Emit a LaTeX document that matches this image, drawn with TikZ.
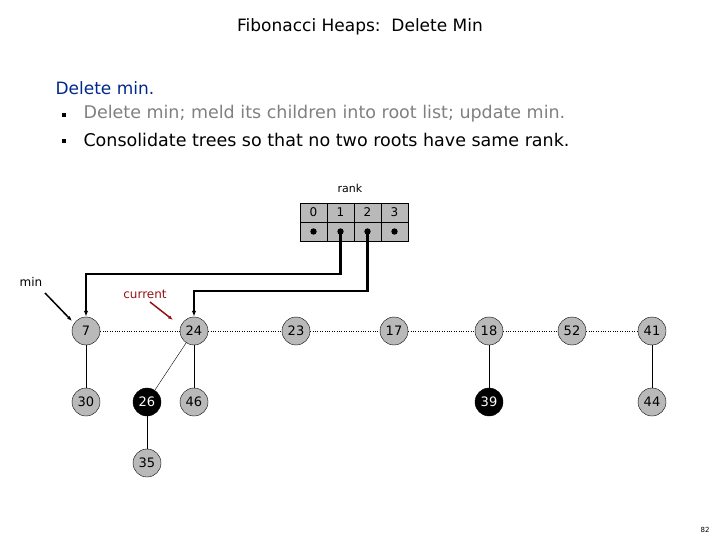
\documentclass[tikz,border=0pt]{standalone}
\usepackage{fontspec}
\setmainfont{DejaVu Sans}
\usetikzlibrary{arrows.meta,positioning}
\definecolor{navyblue}{RGB}{0,40,140}
\definecolor{darkred}{RGB}{150,20,20}
\tikzset{
    heapnode/.style = {circle, draw, fill=gray!55, minimum size=28pt, inner sep=0pt, font=\fontsize{13}{13}\selectfont},
    marknode/.style = {heapnode, fill=black, text=white},
    rankcell/.style = {draw, fill=gray!55, minimum width=27pt, inner sep=0pt, font=\fontsize{12}{12}\selectfont},
    ptr/.style = {line width=2.2pt, -{Latex[length=6pt]}}
}
\begin{document}
\begin{tikzpicture}[x=1pt,y=-1pt]
    \useasboundingbox (0,0) rectangle (720,540);

    % title and text
    \node (title) at (360,27) {\fontsize{17}{17}\selectfont Fibonacci Heaps:\ \ Delete Min};
    \node[anchor=west, text=navyblue] (head) at (52,88) {\fontsize{17}{17}\selectfont Delete min.};
    \node[anchor=west, text=gray] (line1) at (80,114) {\fontsize{17.5}{17.5}\selectfont Delete min; meld its children into root list; update min.};
    \node[anchor=west] (line2) at (80,140) {\fontsize{17.5}{17.5}\selectfont Consolidate trees so that no two roots have same rank.};
    \node[fill=black, minimum size=4pt, inner sep=0pt] (bul1) at (64,115) {};
    \node[fill=black, minimum size=4pt, inner sep=0pt] (bul2) at (64,141) {};

    % rank array
    \node[font=\fontsize{11}{11}\selectfont] (rank) at (350,188) {rank};
    \foreach \i in {0,...,3} {
        \node[rankcell, minimum height=19pt] (top\i) at (313.5+27*\i,212.5) {\i};
        \node[rankcell, minimum height=19pt] (bot\i) at (313.5+27*\i,231.5) {};
        \fill (bot\i) circle (3.2pt);
    }

    % roots
    \node[heapnode] (n7)  at (86,331)  {7};
    \node[heapnode] (n24) at (194,331) {24};
    \node[heapnode] (n23) at (296,331) {23};
    \node[heapnode] (n17) at (394,331) {17};
    \node[heapnode] (n18) at (489,331) {18};
    \node[heapnode] (n52) at (572,331) {52};
    \node[heapnode] (n41) at (652,331) {41};

    % children
    \node[heapnode] (n30) at (86,402)  {30};
    \node[marknode] (n26) at (147,402) {26};
    \node[heapnode] (n46) at (194,402) {46};
    \node[heapnode] (n35) at (147,463) {35};
    \node[marknode] (n39) at (489,402) {39};
    \node[heapnode] (n44) at (652,402) {44};

    \draw[dotted] (n7) -- (n24) -- (n23) -- (n17) -- (n18) -- (n52) -- (n41);
    \draw (n7) -- (n30);
    \draw (n24) -- (n26);
    \draw (n24) -- (n46);
    \draw (n26) -- (n35);
    \draw (n18) -- (n39);
    \draw (n41) -- (n44);

    % pointers
    \draw[ptr] (bot1.center) |- (86,274) -- (n7.north);
    \draw[ptr] (bot2.center) |- (194,291) -- (n24.north);

    \node[font=\fontsize{12}{12}\selectfont] (minlbl) at (31,282) {min};
    \coordinate (minend) at (72,321);
    \draw[line width=1.5pt, -{Latex[length=5pt]}] (45,293) -- (minend);
    \node[font=\fontsize{12}{12}\selectfont, text=darkred] (curlbl) at (145,294) {current};
    \coordinate (curend) at (173,320);
    \draw[line width=1.5pt, darkred, -{Latex[length=5pt]}] (150,302) -- (curend);

    \node[font=\fontsize{7}{7}\selectfont] (page) at (705,530) {82};
\end{tikzpicture}
\end{document}
